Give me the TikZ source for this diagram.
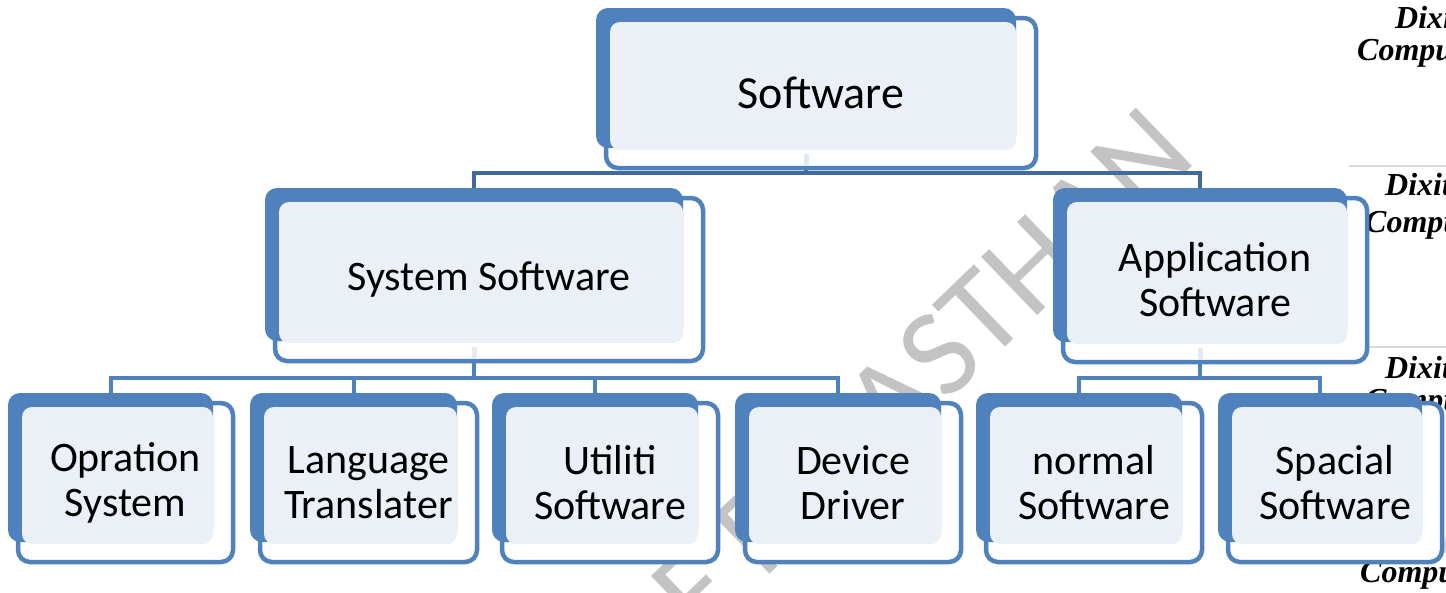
\documentclass[tikz,border=0pt]{standalone}
\usepackage{fontspec}
\setmainfont{Carlito}
\newfontfamily\brandfont{Liberation Serif}
\usetikzlibrary{calc}

\pgfdeclarelayer{back}
\pgfsetlayers{back,main}

\definecolor{accent}{HTML}{4F81BD}
\definecolor{busline}{HTML}{41699C}
\definecolor{panel}{HTML}{EBF0F7}
\definecolor{stubfill}{HTML}{E4EAF3}
\definecolor{wmark}{HTML}{C3C3C3}
\definecolor{rulegray}{HTML}{D9D9D9}

\tikzset{
  frame/.style={draw=accent, line width=4.5pt, fill=white, rounded corners=12pt},
  slab/.style={fill=accent, rounded corners=12pt},
  panelfill/.style={fill=panel, rounded corners=10pt},
  boxlabel/.style={font=\fontsize{42}{45}\selectfont, align=center, inner sep=0pt},
  conn/.style={draw=accent, line width=4pt},
  topconn/.style={draw=busline, line width=4pt},
  brand/.style={font=\brandfont\bfseries\itshape\fontsize{32}{32}\selectfont, anchor=base west, inner sep=0pt},
  sepline/.style={draw=rulegray, line width=1.5pt}
}

% \orgbox[label options]{name}{left}{top}{right}{bottom}{text}
% left/top/right/bottom give the solid back slab; the outlined frame sits
% below and to the right of it, the pale panel covers most of the slab.
\newcommand{\orgbox}[7][]{%
  \draw[frame] ({#3+10},{#4+10}) rectangle ({#5+20},{#6+20});
  \fill[slab] (#3,#4) rectangle (#5,#6);
  \fill[panelfill] ({#3+14},{#4+14}) rectangle (#5,{#6+2});
  \node[boxlabel,#1] (#2) at ({(#3+#5+30)/2},{(#4+#6+30)/2}) {#7};
  \coordinate (#2-top) at ({(#3+#5)/2},#4);
  \coordinate (#2-bot) at ({(#3+#5)/2},{#6+20});
}
% pale tab where a connector leaves a parent box
\newcommand{\stubtab}[1]{%
  \fill[stubfill] ($(#1-bot)+(-2.5,-14)$) rectangle ($(#1-bot)+(2.5,-2)$);
}

\begin{document}
\begin{tikzpicture}[x=1pt,y=-1pt]
\useasboundingbox (0,0) rectangle (1446,592);

% boxes
\orgbox[font=\fontsize{46}{48}\selectfont]{soft}{596}{8}{1016}{148}{Software}
\orgbox{sys}{265}{188}{683}{341}{System Software}
\orgbox{app}{1053}{188}{1347}{342}{Application\\Software}
\orgbox{os}{8}{393}{213}{542}{Opration\\System}
\orgbox{lang}{250}{393}{457}{542}{Language\\Translater}
\orgbox{util}{492}{393}{698}{542}{Utiliti\\Software}
\orgbox{dev}{735}{393}{941}{542}{Device\\Driver}
\orgbox{norm}{976}{393}{1182}{542}{normal\\Software}
\orgbox{spec}{1218}{393}{1422}{542}{Spacial\\Software}
\stubtab{soft}
\stubtab{sys}
\stubtab{app}

\begin{pgfonlayer}{back}
  \fill[white] (0,0) rectangle (1446,592);
  % watermark
  \node[font=\fontsize{126}{126}\selectfont, text=wmark, rotate=44, inner sep=0pt]
    (wm) at (892,400) {OF RAJASTHAN};
  % page margin notes
  \node[brand] (d1) at (1395,28) {Dixit};
  \node[brand] (c1) at (1357,60) {Computer};
  \draw[sepline] (1349,166) -- (1446,166);
  \node[brand] (d2) at (1385,195) {Dixit};
  \node[brand] (c2) at (1365,232) {Computer};
  \draw[sepline] (1349,347) -- (1446,347);
  \node[brand] (d3) at (1385,378) {Dixit};
  \node[brand] (c3) at (1365,410) {Computer};
  \node[brand, text=rulegray] (d4) at (1385,553) {Dixit};
  \node[brand] (c4) at (1360,582) {Computer};

  % connectors
  \coordinate (busA) at (0,173);
  \coordinate (busB) at (0,378);
  \draw[topconn] (soft-bot) -- (soft-bot |- busA) -| (sys-top);
  \draw[topconn] (soft-bot |- busA) -| (app-top);
  \draw[conn] (sys-bot) -- (sys-bot |- busB) -| (os-top);
  \draw[conn] (sys-bot |- busB) -| (lang-top);
  \draw[conn] (sys-bot |- busB) -| (util-top);
  \draw[conn] (sys-bot |- busB) -| (dev-top);
  \draw[conn] (app-bot) -- (app-bot |- busB) -| (norm-top);
  \draw[conn] (app-bot |- busB) -| (spec-top);
\end{pgfonlayer}
\end{tikzpicture}
\end{document}
